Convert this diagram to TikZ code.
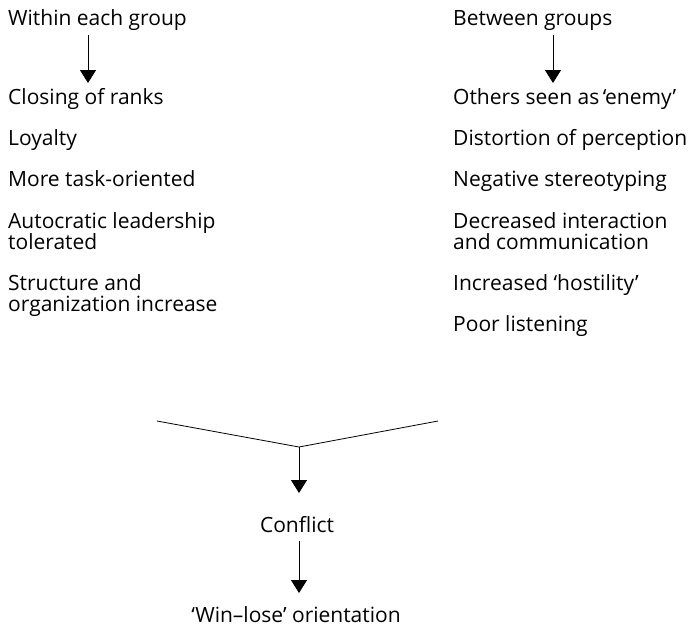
\documentclass[tikz,border=0pt]{standalone}
\usepackage{fontspec}
\setmainfont{Open Sans}
\usetikzlibrary{arrows.meta}
\tikzset{
  lbl/.style={inner sep=0pt, anchor=base west, font=\fontsize{21}{21}\selectfont, align=left},
  ctr/.style={inner sep=0pt, anchor=base, font=\fontsize{21}{21}\selectfont},
  arr/.style={line width=0.8pt, -{Triangle[width=16pt,length=13pt]}},
  ln/.style={line width=0.8pt}
}
\begin{document}
\begin{tikzpicture}[x=1pt,y=-1pt]
\useasboundingbox (0,0) rectangle (696,627);
% left column (two-line labels are placed by the baseline of their last line)
\node[lbl] (within) at (8,25) {Within each group};
\node[lbl] (closing) at (8,104) {Closing of ranks};
\node[lbl] (loyalty) at (8,145) {Loyalty};
\node[lbl] (task) at (8,186) {More task-oriented};
\node[lbl] (auto) at (8,249) {Autocratic leadership\\tolerated};
\node[lbl] (struct) at (8,311) {Structure and\\organization increase};
% right column
\node[lbl] (between) at (453,25) {Between groups};
\node[lbl] (enemy) at (453,104) {Others seen as\,‘enemy’};
\node[lbl] (distort) at (453,145) {Distortion of perception};
\node[lbl] (stereo) at (453,186) {Negative stereotyping};
\node[lbl] (decr) at (453,249) {Decreased interaction\\and communication};
\node[lbl] (host) at (453,290) {Increased ‘hostility’};
\node[lbl] (listen) at (453,331) {Poor listening};
% bottom
\node[ctr] (conflict) at (297,532) {Conflict};
\node[ctr] (winlose) at (296,622) {‘Win–lose’ orientation};
% connectors
\coordinate (la) at (88,0);
\coordinate (ra) at (553,0);
\draw[arr] (la |- 0,35) -- (la |- 0,83);
\draw[arr] (ra |- 0,35) -- (ra |- 0,83);
\coordinate (lend) at (157,421);
\coordinate (rend) at (438,421);
\coordinate (join) at (299,447);
\draw[ln] (lend) -- (join) -- (rend);
\draw[arr] (join) -- (join |- 0,493);
\draw[arr] (join |- 0,541) -- (join |- 0,593);
\end{tikzpicture}
\end{document}
